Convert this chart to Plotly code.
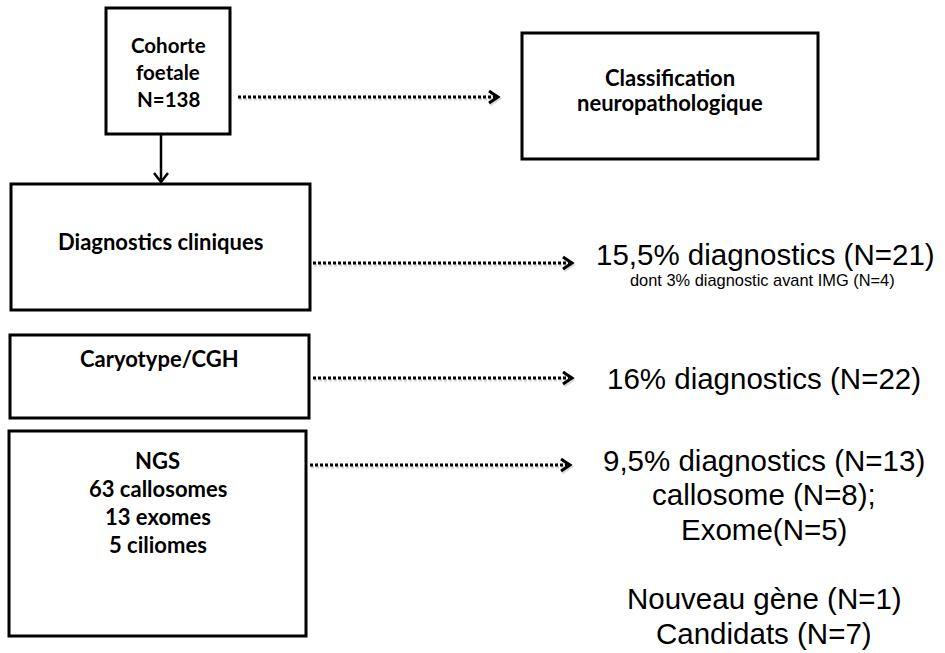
import plotly.graph_objects as go

# ---- content (text data) ----
box_labels = [
    "Cohorte<br>foetale<br>N=138",
    "Classification<br>neuropathologique",
    "Diagnostics cliniques",
    "Caryotype/CGH",
    "NGS<br>63 callosomes<br>13 exomes<br>5 ciliomes",
]
result_lines_clin = ["15,5% diagnostics (N=21)"]
result_sub_clin = ["dont 3% diagnostic avant IMG (N=4)"]
result_lines_cgh = ["16% diagnostics (N=22)"]
result_lines_ngs = [
    "9,5% diagnostics (N=13)",
    "callosome (N=8);",
    "Exome(N=5)",
    "",
    "Nouveau gène (N=1)",
    "Candidats (N=7)",
]

# ---- layout geometry (pixel space, y downward) ----
W, H = 945, 653
boxes = [  # x0, y0, x1, y1
    (106, 8, 230, 134),
    (522, 33, 818, 159),
    (11, 184, 310, 310),
    (10, 335, 309, 418),
    (9, 431, 306, 636),
]
box_text_y = [72, 90, 241, 358, 502]
box_line_gap = [27, 25, 0, 0, 28]
box_font_size = [20.5, 22, 22, 22, 22]

dotted = [  # x0, x1, y
    (238, 498, 97),
    (313, 572, 263),
    (313, 572, 378),
    (310, 570, 465),
]

BOX_FONT = dict(family="Lato, 'Open Sans', sans-serif", color="black")
RES_FONT = dict(family="'Liberation Sans', Arial, sans-serif", size=29.5, color="black")

fig = go.Figure()
shapes = []
annotations = []

for (x0, y0, x1, y1) in boxes:
    shapes.append(dict(type="rect", x0=x0, y0=y0, x1=x1, y1=y1,
                       line=dict(color="black", width=3), fillcolor="white",
                       layer="below"))

for i, lab in enumerate(box_labels):
    x0, y0, x1, y1 = boxes[i]
    lines = lab.split("<br>")
    n = len(lines)
    gap = box_line_gap[i]
    for j, ln in enumerate(lines):
        y = box_text_y[i] + (j - (n - 1) / 2) * gap
        annotations.append(dict(x=(x0 + x1) / 2, y=y, text="<b>" + ln + "</b>",
                                showarrow=False, xanchor="center", yanchor="middle",
                                font=dict(BOX_FONT, size=box_font_size[i])))


def chevron(xt, yt, dx=-9, dy=6, w=3, color="black"):
    return dict(type="path",
                path=f"M {xt+dx},{yt-dy} L {xt},{yt} L {xt+dx},{yt+dy}",
                line=dict(color=color, width=w))


for (x0, x1, y) in dotted:
    # faint shadow
    shapes.append(dict(type="line", x0=x0 + 1, x1=x1 - 4, y0=y + 2, y1=y + 2,
                       line=dict(color="rgba(0,0,0,0.15)", width=3, dash="3px,2px")))
    shapes.append(chevron(x1 + 1, y + 2, color="rgba(0,0,0,0.15)"))
    shapes.append(dict(type="line", x0=x0, x1=x1 - 3, y0=y, y1=y,
                       line=dict(color="black", width=3, dash="3px,2px")))
    shapes.append(chevron(x1, y))

# vertical solid arrow from Cohorte to Diagnostics cliniques
shapes.append(dict(type="line", x0=161, x1=161, y0=134, y1=181,
                   line=dict(color="black", width=2.5)))
shapes.append(dict(type="path", path="M 154,173 L 161,182 L 168,173",
                   line=dict(color="black", width=2.5)))

RX = 764
annotations.append(dict(x=RX + 1, y=254, text=result_lines_clin[0], showarrow=False,
                        xanchor="center", yanchor="middle", font=RES_FONT))
annotations.append(dict(x=RX - 2, y=280, text=result_sub_clin[0], showarrow=False,
                        xanchor="center", yanchor="middle",
                        font=dict(RES_FONT, size=16.4)))
annotations.append(dict(x=RX, y=378, text=result_lines_cgh[0], showarrow=False,
                        xanchor="center", yanchor="middle", font=RES_FONT))
for k, ln in enumerate(result_lines_ngs):
    if not ln:
        continue
    annotations.append(dict(x=RX, y=460 + k * 34.6, text=ln, showarrow=False,
                            xanchor="center", yanchor="middle", font=RES_FONT))

fig.update_layout(
    width=W, height=H,
    margin=dict(l=0, r=0, t=0, b=0),
    paper_bgcolor="white", plot_bgcolor="white",
    xaxis=dict(range=[0, W], visible=False, fixedrange=True),
    yaxis=dict(range=[H, 0], visible=False, fixedrange=True),
    shapes=shapes, annotations=annotations, showlegend=False,
)
fig.write_html("out.html", config={"displayModeBar": False},
               post_script="document.body.style.margin='0';document.body.style.overflow='hidden';")
